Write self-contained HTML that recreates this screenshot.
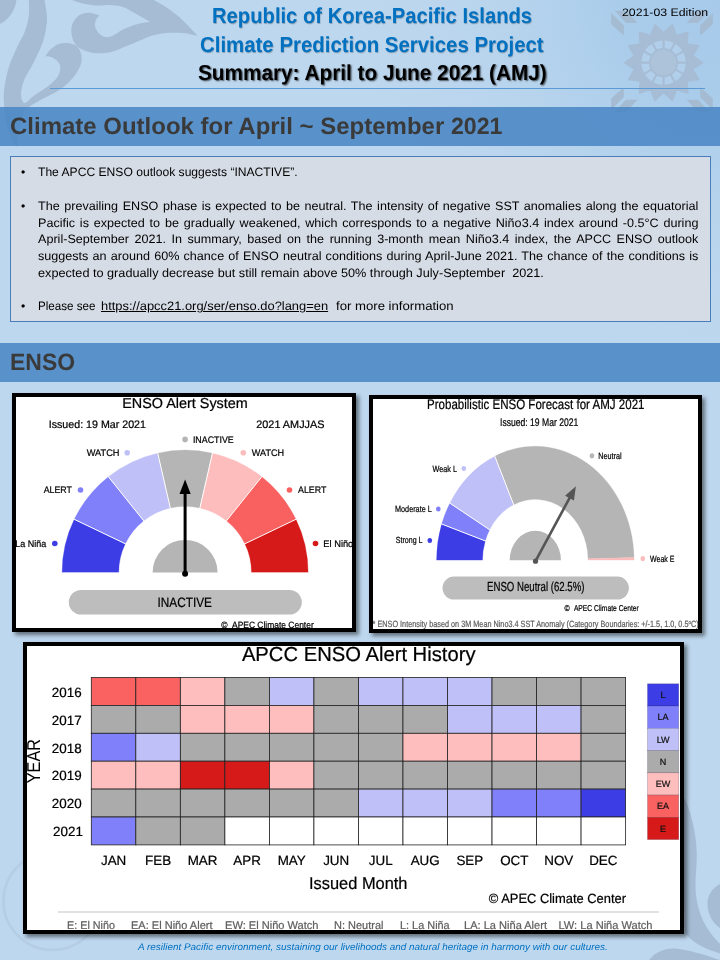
<!DOCTYPE html>
<html lang="en">
<head>
<meta charset="utf-8">
<title>ROK-PI CliPS Summary: April to June 2021 (AMJ)</title>
<style>
html,body{margin:0;padding:0;}
body{width:720px;height:960px;overflow:hidden;position:relative;font-family:"Liberation Sans",sans-serif;text-rendering:geometricPrecision;
  background:radial-gradient(circle at 100% 0%,#a7caea 0px,#a9cceb 90px,#b0d0ec 150px,#b8d4ed 215px,#bcd6ee 300px,#bdd7ee 360px);background-color:#bdd7ee;}
.abs{position:absolute;}
.t{position:absolute;white-space:pre;line-height:1;transform-origin:0 0;}
.band{position:absolute;left:0;width:720px;height:38.5px;background:rgba(72,133,196,0.86);}
.bandtxt{font-weight:bold;font-size:23.5px;color:#3a3a3a;}
.hd{font-weight:bold;font-size:21.65px;color:#0070c0;text-shadow:0.6px 0.6px 0.8px rgba(0,0,0,0.25);}
#box{position:absolute;left:10px;top:156px;width:699px;height:164px;background:#d6dce6;border:1px solid #4a7ebb;}
.p{position:absolute;left:37.9px;width:660.6px;font-size:12.2px;line-height:16.75px;color:#000;white-space:nowrap;text-align:justify;text-align-last:justify;height:16.75px;overflow:visible;}
.p.nj{text-align:left;text-align-last:left;white-space:pre;transform-origin:0 0;}
.p.j{width:639.3px;transform:scaleX(1.033);transform-origin:0 0;}
.bul{position:absolute;left:21px;font-size:12.2px;line-height:16.75px;}
.frame{position:absolute;background:#fff;border:4px solid #000;box-shadow:2.5px 2.5px 4px rgba(0,0,0,0.48);overflow:hidden;box-sizing:border-box;}
.frame svg{position:absolute;left:0;top:0;}
svg text{font-family:"Liberation Sans",sans-serif;text-rendering:geometricPrecision;}
</style>
</head>
<body>
<div id="sheet" style="position:absolute;left:0;top:0;width:720px;height:960px;will-change:transform">

<!-- decorative watermarks -->
<svg class="abs" id="deco" style="left:0;top:0" width="720" height="960" viewBox="0 0 720 960">
<!--DECO-->
<path d="M0,0 L16.4,0 C15.5,10 8.5,20 0,24 Z" fill="#a5bcd4"/>
<path d="M28.9,0.0 C34.1,0.0 39.3,0.0 44.5,0.0 C45.3,5.2 46.6,10.9 46.9,15.6 C47.2,20.3 46.9,23.4 46.1,28.1 C45.3,32.8 44.3,38.1 42.2,43.8 C40.1,49.5 36.5,56.8 33.6,62.5 C30.7,68.2 27.1,73.4 25.0,78.1 C22.9,82.8 21.9,87.2 21.3,90.6 C20.7,94.0 21.3,95.9 21.3,98.5 C22.5,100.0 22.8,103.6 25.0,103.1 C27.2,102.6 30.5,98.2 34.4,95.3 C38.3,92.4 44.5,89.0 48.4,85.9 C52.3,82.8 55.8,80.0 57.8,76.6 C59.8,73.2 61.0,68.7 60.2,65.6 C59.4,62.5 55.6,59.3 53.1,57.8 C50.6,56.2 47.9,56.8 45.3,56.3 C46.9,54.2 47.6,52.1 50.0,50.0 C52.4,47.9 55.8,44.8 59.4,43.8 C63.0,42.8 68.5,42.8 71.9,43.8 C75.3,44.8 78.1,46.9 79.7,50.0 C81.3,53.1 82.2,58.1 81.3,62.5 C80.3,66.9 77.5,72.0 74.0,76.5 C70.5,81.0 65.8,85.5 60.0,89.5 C54.2,93.5 45.5,97.1 39.5,100.5 C33.5,103.9 29.2,106.8 24.0,110.0 C22.8,115.0 21.6,118.8 20.3,125.0 C19.0,131.2 17.7,139.6 16.4,146.9 C15.1,144.8 14.2,144.8 12.5,140.6 C10.8,136.4 7.7,128.4 6.3,121.9 C4.9,115.4 4.2,107.6 3.9,101.6 C3.6,95.6 3.8,91.9 4.7,85.9 C5.6,79.9 7.3,72.1 9.4,65.6 C11.5,59.1 14.6,52.6 17.2,46.9 C19.8,41.2 23.1,36.4 25.0,31.2 C26.9,26.0 28.2,20.8 28.9,15.6 C29.5,10.4 28.9,5.2 28.9,0.0 Z" fill="#a5bcd4"/>
<path d="M72.0,0.0 C99.3,0.0 126.6,0.0 153.9,0.0 C158.9,3.0 164.6,5.9 168.9,8.9 C173.2,11.9 176.5,14.7 180.0,17.8 C183.5,20.9 187.0,24.8 190.0,27.8 C193.0,30.9 195.2,33.3 197.8,36.1 C193.7,35.2 189.4,33.8 185.5,33.3 C181.6,32.8 178.1,32.8 174.4,32.8 C170.7,32.8 167.0,32.8 163.3,33.3 C159.6,33.8 155.9,34.4 152.2,35.5 C148.5,36.6 145.2,38.3 141.1,40.0 C137.0,41.7 133.0,43.5 127.8,45.5 C122.6,47.5 115.6,51.0 110.0,52.2 C104.4,53.4 98.9,53.3 94.4,52.9 C90.0,52.5 86.5,51.4 83.3,50.0 C80.1,48.6 77.4,46.8 75.5,44.4 C73.6,42.0 72.3,38.8 71.8,35.5 C71.2,32.2 71.0,27.7 72.2,24.4 C73.4,21.1 76.2,17.4 78.9,15.5 C81.6,13.6 85.1,12.8 88.5,12.8 C91.9,12.8 95.7,14.5 99.3,15.3 C98.0,17.2 96.1,18.9 95.5,21.0 C94.9,23.1 94.8,25.6 95.5,27.8 C96.2,30.0 98.1,32.8 100.0,34.4 C101.9,36.0 104.5,37.0 106.7,37.2 C108.9,37.4 110.7,36.7 113.3,35.5 C115.9,34.3 119.1,31.6 122.2,30.0 C125.3,28.4 129.2,26.8 132.2,25.7 C135.2,24.6 137.0,24.2 140.0,23.5 C143.0,22.8 146.7,22.3 150.0,21.7 C147.0,20.0 144.4,18.6 141.1,16.7 C137.8,14.8 133.2,12.2 130.0,10.5 C126.8,8.8 125.3,7.6 122.0,6.7 C118.7,5.8 114.4,5.2 110.0,5.0 C105.6,4.8 100.2,5.8 95.5,5.5 C90.8,5.2 85.9,4.2 82.0,3.3 C78.1,2.4 75.3,1.1 72.0,0.0 Z" fill="#a5bcd4"/>
<path d="M685,799 C690,810 696,830 696.7,852 C697,870 694.5,880 696,895 C698,912 704,928 720,944 L720,953.5 C706,949 694,944 685,933 L680,800 Z" fill="#a5bcd4"/>
<path d="M720,884 C712,888 707,896 707.5,905 C708,915 713,923 720,928 Z" fill="#a5bcd4"/>
<path d="M649,960 C655,952 665,948 675,948.5 C690,950 705,955 720,960 Z" fill="#a5bcd4"/>
<circle cx="52.5" cy="901" r="49" fill="none" stroke="#aac2da" stroke-width="2.5" opacity="0.45"/>
<g opacity="0.9"><path d="M702.1,62.6 L692.4,56.0 L698.3,45.9 L686.7,44.2 L687.6,32.5 L676.4,36.0 L672.2,25.1 L663.6,33.1 L655.0,25.1 L650.8,36.0 L639.6,32.5 L640.5,44.2 L628.9,45.9 L634.8,56.0 L625.1,62.6 L634.8,69.2 L628.9,79.3 L640.5,81.0 L639.6,92.7 L650.8,89.2 L655.0,100.1 L663.6,92.1 L672.2,100.1 L676.4,89.2 L687.6,92.7 L686.7,81.0 L698.3,79.3 L692.4,69.2 Z" fill="#a6bcd3" stroke="#a6bcd3" stroke-width="2" stroke-linejoin="round"/>
<path d="M685.8,61.5 A22.2,22.2 0 0 0 683.3,52.5 L676.7,56.2 A14.6,14.6 0 0 1 678.2,61.5 Z" fill="#b2d0ec"/>
<path d="M682.3,50.6 A22.2,22.2 0 0 0 675.6,43.9 L671.8,50.5 A14.6,14.6 0 0 1 675.7,54.4 Z" fill="#b2d0ec"/>
<path d="M673.7,42.9 A22.2,22.2 0 0 0 664.7,40.4 L664.7,48.0 A14.6,14.6 0 0 1 670.0,49.5 Z" fill="#b2d0ec"/>
<path d="M662.5,40.4 A22.2,22.2 0 0 0 653.5,42.9 L657.2,49.5 A14.6,14.6 0 0 1 662.5,48.0 Z" fill="#b2d0ec"/>
<path d="M651.6,43.9 A22.2,22.2 0 0 0 644.9,50.6 L651.5,54.4 A14.6,14.6 0 0 1 655.4,50.5 Z" fill="#b2d0ec"/>
<path d="M643.9,52.5 A22.2,22.2 0 0 0 641.4,61.5 L649.0,61.5 A14.6,14.6 0 0 1 650.5,56.2 Z" fill="#b2d0ec"/>
<path d="M641.4,63.7 A22.2,22.2 0 0 0 643.9,72.7 L650.5,69.0 A14.6,14.6 0 0 1 649.0,63.7 Z" fill="#b2d0ec"/>
<path d="M644.9,74.6 A22.2,22.2 0 0 0 651.6,81.3 L655.4,74.7 A14.6,14.6 0 0 1 651.5,70.8 Z" fill="#b2d0ec"/>
<path d="M653.5,82.3 A22.2,22.2 0 0 0 662.5,84.8 L662.5,77.2 A14.6,14.6 0 0 1 657.2,75.7 Z" fill="#b2d0ec"/>
<path d="M664.7,84.8 A22.2,22.2 0 0 0 673.7,82.3 L670.0,75.7 A14.6,14.6 0 0 1 664.7,77.2 Z" fill="#b2d0ec"/>
<path d="M675.6,81.3 A22.2,22.2 0 0 0 682.3,74.6 L675.7,70.8 A14.6,14.6 0 0 1 671.8,74.7 Z" fill="#b2d0ec"/>
<path d="M683.3,72.7 A22.2,22.2 0 0 0 685.8,63.7 L678.2,63.7 A14.6,14.6 0 0 1 676.7,69.0 Z" fill="#b2d0ec"/>
<circle cx="663.6" cy="62.6" r="12.8" fill="#acc2d8"/>
</g>
<path d="M611.2,12.9 L623.8,25.4 L623.8,35.4 L611.2,24.2 Z" fill="#a3b9d0" opacity="0.95"/>
<path d="M615.0,10.8 L626.2,10.8 L637.5,22.9 L625.8,22.9 Z" fill="#a3b9d0" opacity="0.95"/>
<path d="M611.2,109.7 L623.8,97.2 L623.8,87.2 L611.2,98.4 Z" fill="#a3b9d0" opacity="0.95"/>
<path d="M615.0,111.8 L626.2,111.8 L637.5,99.7 L625.8,99.7 Z" fill="#a3b9d0" opacity="0.95"/>
<path d="M712.8,12.9 L700.2,25.4 L700.2,35.4 L712.8,24.2 Z" fill="#a3b9d0" opacity="0.95"/>
<path d="M709.0,10.8 L697.8,10.8 L686.5,22.9 L698.2,22.9 Z" fill="#a3b9d0" opacity="0.95"/>
<path d="M712.8,109.7 L700.2,97.2 L700.2,87.2 L712.8,98.4 Z" fill="#a3b9d0" opacity="0.95"/>
<path d="M709.0,111.8 L697.8,111.8 L686.5,99.7 L698.2,99.7 Z" fill="#a3b9d0" opacity="0.95"/>
<!--/DECO-->
</svg>

<!-- header -->
<div class="t hd" id="h1" style="left:212.1px;top:4.6px;transform:scaleX(0.934)">Republic of Korea-Pacific Islands</div>
<div class="t hd" id="h2" style="left:199.6px;top:33.5px;transform:scaleX(0.943)">Climate Prediction Services Project</div>
<div class="t hd" id="h3" style="left:198px;top:62.1px;color:#000;text-shadow:1.3px 1.3px 1.6px rgba(0,0,0,0.6);transform:scaleX(0.959)">Summary: April to June 2021 (AMJ)</div>
<div class="t" id="ed" style="left:622px;top:8.1px;font-size:10.9px;transform:scaleX(1.128)">2021-03 Edition</div>
<div class="abs" id="hr" style="left:50px;top:88px;width:655px;height:1px;background:#5b9bd5"></div>

<!-- section band 1 -->
<div class="band" style="top:107px"></div>
<div class="t bandtxt" id="b1" style="left:10px;top:115.4px;transform:scaleX(1.0206)">Climate Outlook for April ~ September</div>
<div class="t bandtxt" id="b1y" style="left:451.4px;top:115.4px;transform:scaleX(0.985)">2021</div>

<!-- text box -->
<div id="box"></div>
<div class="bul" style="top:163.7px">•</div>
<div class="p nj" style="top:163.7px;transform:scaleX(0.993)">The APCC ENSO outlook suggests “INACTIVE”.</div>
<div class="bul" style="top:197.7px">•</div>
<div class="p j" style="top:197.7px">The prevailing ENSO phase is expected to be neutral. The intensity of negative SST anomalies along the equatorial</div>
<div class="p j" style="top:214.5px">Pacific is expected to be gradually weakened, which corresponds to a negative Niño3.4 index around -0.5°C during</div>
<div class="p j" style="top:231.2px">April-September 2021. In summary, based on the running 3-month mean Niño3.4 index, the APCC ENSO outlook</div>
<div class="p j" style="top:248px">suggests an around 60% chance of ENSO neutral conditions during April-June 2021. The chance of the conditions is</div>
<div class="p nj" style="top:264.7px;transform:scaleX(1.040)">expected to gradually decrease but still remain above 50% through July-September  2021.</div>
<div class="bul" style="top:298.3px">•</div>
<div class="p nj" style="top:298.3px;transform:scaleX(0.954)">Please see</div>
<div class="p nj" style="top:298.3px;left:100.5px;transform:scaleX(1.059);text-decoration:underline">https://apcc21.org/ser/enso.do?lang=en</div>
<div class="p nj" style="top:298.3px;left:335.7px;transform:scaleX(1.079)">for more information</div>

<!-- section band 2 -->
<div class="band" style="top:343px"></div>
<div class="t bandtxt" id="b2" style="left:10.4px;top:351.2px;transform:scaleX(0.977)">ENSO</div>

<!-- image 1: ENSO Alert System -->
<div class="frame" id="f1" style="left:12px;top:393px;width:344px;height:239px">
<!--C1-->
<svg width="336" height="231" viewBox="16 397 336 231">
<path d="M62.10,572.40 A123.00,122.30 0 0 1 74.28,519.34 L125.30,543.76 A66.38,66.00 0 0 0 118.72,572.40 Z" fill="#3d3de5" stroke="#3d3de5" stroke-width="0.3"/>
<path d="M74.28,519.34 A123.00,122.30 0 0 1 108.41,476.78 L143.71,520.80 A66.38,66.00 0 0 0 125.30,543.76 Z" fill="#8080fa" stroke="#8080fa" stroke-width="0.3"/>
<path d="M108.41,476.78 A123.00,122.30 0 0 1 157.73,453.17 L170.33,508.05 A66.38,66.00 0 0 0 143.71,520.80 Z" fill="#c0c0f9" stroke="#c0c0f9" stroke-width="0.3"/>
<path d="M157.73,453.17 A123.00,122.30 0 0 1 212.47,453.17 L199.87,508.05 A66.38,66.00 0 0 0 170.33,508.05 Z" fill="#b5b5b5" stroke="#b5b5b5" stroke-width="0.3"/>
<path d="M212.47,453.17 A123.00,122.30 0 0 1 261.79,476.78 L226.49,520.80 A66.38,66.00 0 0 0 199.87,508.05 Z" fill="#fdbdbd" stroke="#fdbdbd" stroke-width="0.3"/>
<path d="M261.79,476.78 A123.00,122.30 0 0 1 295.92,519.34 L244.90,543.76 A66.38,66.00 0 0 0 226.49,520.80 Z" fill="#f96161" stroke="#f96161" stroke-width="0.3"/>
<path d="M295.92,519.34 A123.00,122.30 0 0 1 308.10,572.40 L251.48,572.40 A66.38,66.00 0 0 0 244.90,543.76 Z" fill="#d61919" stroke="#d61919" stroke-width="0.3"/>
<line x1="126.20" y1="544.20" x2="73.37" y2="518.90" stroke="#fff" stroke-width="1"/>
<line x1="144.34" y1="521.58" x2="107.78" y2="476.00" stroke="#fff" stroke-width="1"/>
<line x1="170.55" y1="509.03" x2="157.51" y2="452.19" stroke="#fff" stroke-width="1"/>
<line x1="199.65" y1="509.03" x2="212.69" y2="452.19" stroke="#fff" stroke-width="1"/>
<line x1="225.86" y1="521.58" x2="262.42" y2="476.00" stroke="#fff" stroke-width="1"/>
<line x1="244.00" y1="544.20" x2="296.83" y2="518.90" stroke="#fff" stroke-width="1"/>
<rect x="55" y="572.55" width="260" height="3" fill="#fff"/>
<path d="M152.60,572.40 A32.5,32.5 0 0 1 217.60,572.40 Z" fill="#b5b5b5"/>
<line x1="185.1" y1="573.6999999999999" x2="185.1" y2="492" stroke="#000" stroke-width="3"/>
<path d="M185.1,479.6 L190.7,494 L179.5,494 Z" fill="#000"/>
<circle cx="185.1" cy="573.6999999999999" r="3" fill="#000"/>
<rect x="68.8" y="590" width="233" height="24.6" rx="12.3" fill="#bdbdbd"/>
<text x="122.2" y="407.9" font-size="14.35" fill="#000" stroke="#000" stroke-width="0.22" text-anchor="start" textLength="125.6" lengthAdjust="spacingAndGlyphs">ENSO Alert System</text>
<text x="48.7" y="428.0" font-size="10.92" fill="#000" stroke="#000" stroke-width="0.22" text-anchor="start" textLength="97.3" lengthAdjust="spacingAndGlyphs">Issued: 19 Mar 2021</text>
<text x="256.3" y="428.0" font-size="10.92" fill="#000" stroke="#000" stroke-width="0.22" text-anchor="start" textLength="68.2" lengthAdjust="spacingAndGlyphs">2021 AMJJAS</text>
<text x="192.9" y="442.8" font-size="9.57" fill="#000" stroke="#000" stroke-width="0.22" text-anchor="start" textLength="40.9" lengthAdjust="spacingAndGlyphs">INACTIVE</text>
<text x="86.7" y="455.8" font-size="9.57" fill="#000" stroke="#000" stroke-width="0.22" text-anchor="start" textLength="32.8" lengthAdjust="spacingAndGlyphs">WATCH</text>
<text x="251.8" y="455.8" font-size="9.57" fill="#000" stroke="#000" stroke-width="0.22" text-anchor="start" textLength="32.3" lengthAdjust="spacingAndGlyphs">WATCH</text>
<text x="43.7" y="493.3" font-size="9.57" fill="#000" stroke="#000" stroke-width="0.22" text-anchor="start" textLength="28.3" lengthAdjust="spacingAndGlyphs">ALERT</text>
<text x="298" y="493.3" font-size="9.57" fill="#000" stroke="#000" stroke-width="0.22" text-anchor="start" textLength="28.3" lengthAdjust="spacingAndGlyphs">ALERT</text>
<text x="15.3" y="547" font-size="9.57" fill="#000" stroke="#000" stroke-width="0.22" text-anchor="start" textLength="31" lengthAdjust="spacingAndGlyphs">La Niña</text>
<text x="323.3" y="547" font-size="9.57" fill="#000" stroke="#000" stroke-width="0.22" text-anchor="start" textLength="30" lengthAdjust="spacingAndGlyphs">El Niño</text>
<text x="157.5" y="606.8" font-size="13.52" fill="#000" stroke="#000" stroke-width="0.22" text-anchor="start" textLength="54.5" lengthAdjust="spacingAndGlyphs">INACTIVE</text>
<text x="221.3" y="627.8" font-size="9.15" fill="#000" stroke="#000" stroke-width="0.22" text-anchor="start" textLength="6.3" lengthAdjust="spacingAndGlyphs">©</text>
<text x="232" y="627.8" font-size="9.15" fill="#000" stroke="#000" stroke-width="0.22" text-anchor="start" textLength="81.7" lengthAdjust="spacingAndGlyphs">APEC Climate Center</text>
<circle cx="185.1" cy="439.4" r="2.8" fill="#b5b5b5"/>
<circle cx="127.2" cy="452.7" r="2.8" fill="#c0c0f9"/>
<circle cx="243.3" cy="452.7" r="2.8" fill="#fdbdbd"/>
<circle cx="80.5" cy="490" r="2.8" fill="#8080fa"/>
<circle cx="289.5" cy="490" r="2.8" fill="#f96161"/>
<circle cx="54.8" cy="543.5" r="2.8" fill="#3d3de5"/>
<circle cx="315.5" cy="543.5" r="2.8" fill="#d61919"/>
</svg>
<!--/C1-->
</div>

<!-- image 2: Probabilistic ENSO Forecast -->
<div class="frame" id="f2" style="left:369px;top:395px;width:333px;height:238px">
<!--C2-->
<svg width="325" height="230" viewBox="373 399 325 230">
<path d="M436.58,560.30 A98.72,114.00 0 0 1 441.71,524.03 L485.22,540.89 A52.83,61.00 0 0 0 482.47,560.30 Z" fill="#3d3de5" stroke="#3d3de5" stroke-width="0.3"/>
<path d="M441.71,524.03 A98.72,114.00 0 0 1 449.89,503.13 L489.60,529.71 A52.83,61.00 0 0 0 485.22,540.89 Z" fill="#8080fa" stroke="#8080fa" stroke-width="0.3"/>
<path d="M449.89,503.13 A98.72,114.00 0 0 1 494.83,456.32 L513.65,504.66 A52.83,61.00 0 0 0 489.60,529.71 Z" fill="#c0c0f9" stroke="#c0c0f9" stroke-width="0.3"/>
<path d="M494.83,456.32 A98.72,114.00 0 0 1 633.99,557.51 L588.11,558.81 A52.83,61.00 0 0 0 513.65,504.66 Z" fill="#b5b5b5" stroke="#b5b5b5" stroke-width="0.3"/>
<path d="M633.99,557.51 A98.72,114.00 0 0 1 634.02,560.30 L588.13,560.30 A52.83,61.00 0 0 0 588.11,558.81 Z" fill="#fdbdbd" stroke="#fdbdbd" stroke-width="0.3"/>
<line x1="486.04" y1="541.21" x2="440.88" y2="523.71" stroke="#fff" stroke-width="1"/>
<line x1="490.35" y1="530.21" x2="449.14" y2="502.63" stroke="#fff" stroke-width="1"/>
<line x1="514.00" y1="505.57" x2="494.48" y2="455.41" stroke="#fff" stroke-width="1"/>
<rect x="430" y="560.45" width="210" height="3" fill="#fff"/>
<path d="M509.67,560.30 A25.63,29.6 0 0 1 560.93,560.30 Z" fill="#b5b5b5"/>
<line x1="535.5" y1="561.2" x2="570.45" y2="496.32" stroke="#555" stroke-width="2.6"/>
<path d="M575.90,486.20 L573.90,500.46 L565.10,495.71 Z" fill="#555"/>
<circle cx="535.5" cy="561.2" r="2.6" fill="#555"/>
<rect x="442.5" y="576.6" width="186.4" height="22.9" rx="11.45" fill="#bdbdbd"/>
<text x="427" y="409.3" font-size="13.83" fill="#000" stroke="#000" stroke-width="0.22" text-anchor="start" textLength="217.5" lengthAdjust="spacingAndGlyphs">Probabilistic ENSO Forecast for AMJ 2021</text>
<text x="500" y="425.9" font-size="11.02" fill="#000" stroke="#000" stroke-width="0.22" text-anchor="start" textLength="78.3" lengthAdjust="spacingAndGlyphs">Issued: 19 Mar 2021</text>
<text x="598.3" y="458.8" font-size="8.94" fill="#000" stroke="#000" stroke-width="0.22" text-anchor="start" textLength="23.2" lengthAdjust="spacingAndGlyphs">Neutral</text>
<text x="432.5" y="471.8" font-size="8.94" fill="#000" stroke="#000" stroke-width="0.22" text-anchor="start" textLength="24.5" lengthAdjust="spacingAndGlyphs">Weak L</text>
<text x="395" y="512" font-size="8.94" fill="#000" stroke="#000" stroke-width="0.22" text-anchor="start" textLength="36.8" lengthAdjust="spacingAndGlyphs">Moderate L</text>
<text x="395.8" y="543" font-size="8.94" fill="#000" stroke="#000" stroke-width="0.22" text-anchor="start" textLength="26.7" lengthAdjust="spacingAndGlyphs">Strong L</text>
<text x="650" y="561.5" font-size="8.94" fill="#000" stroke="#000" stroke-width="0.22" text-anchor="start" textLength="24.5" lengthAdjust="spacingAndGlyphs">Weak E</text>
<text x="487" y="591.1" font-size="13.1" fill="#000" stroke="#000" stroke-width="0.22" text-anchor="start" textLength="97.5" lengthAdjust="spacingAndGlyphs">ENSO Neutral (62.5%)</text>
<text x="564.5" y="611.4" font-size="8.53" fill="#000" stroke="#000" stroke-width="0.22" text-anchor="start" textLength="5.2" lengthAdjust="spacingAndGlyphs">©</text>
<text x="573.9" y="611.4" font-size="8.53" fill="#000" stroke="#000" stroke-width="0.22" text-anchor="start" textLength="64.9" lengthAdjust="spacingAndGlyphs">APEC Climate Center</text>
<text x="372.6" y="627.4" font-size="9.05" fill="#606060" stroke="#606060" stroke-width="0.22" text-anchor="start" textLength="326" lengthAdjust="spacingAndGlyphs">* ENSO Intensity based on 3M Mean Nino3.4 SST Anomaly (Category Boundaries: +/-1.5, 1.0, 0.5<tspan font-size="5.5" dy="-3">o</tspan><tspan dy="3">C)</tspan></text>
<ellipse cx="592" cy="455.8" rx="2.3" ry="2.6" fill="#b5b5b5"/>
<ellipse cx="463.8" cy="468.5" rx="2.3" ry="2.6" fill="#c0c0f9"/>
<ellipse cx="438.3" cy="509" rx="2.3" ry="2.6" fill="#8080fa"/>
<ellipse cx="429.8" cy="540.5" rx="2.3" ry="2.6" fill="#3d3de5"/>
<ellipse cx="642.8" cy="558.7" rx="2.3" ry="2.6" fill="#fdbdbd"/>
</svg>
<!--/C2-->
</div>

<!-- image 3: Alert History -->
<div class="frame" id="f3" style="left:23px;top:642px;width:661px;height:292px">
<!--C3-->
<svg width="653" height="284" viewBox="27 646 653 284">
<rect x="91.30" y="677.50" width="44.53" height="27.90" fill="#fa6262" stroke="#222" stroke-width="0.8"/>
<rect x="135.82" y="677.50" width="44.53" height="27.90" fill="#fa6262" stroke="#222" stroke-width="0.8"/>
<rect x="180.35" y="677.50" width="44.53" height="27.90" fill="#ffbebe" stroke="#222" stroke-width="0.8"/>
<rect x="224.88" y="677.50" width="44.53" height="27.90" fill="#ababab" stroke="#222" stroke-width="0.8"/>
<rect x="269.40" y="677.50" width="44.53" height="27.90" fill="#c0c0f9" stroke="#222" stroke-width="0.8"/>
<rect x="313.93" y="677.50" width="44.53" height="27.90" fill="#ababab" stroke="#222" stroke-width="0.8"/>
<rect x="358.45" y="677.50" width="44.53" height="27.90" fill="#c0c0f9" stroke="#222" stroke-width="0.8"/>
<rect x="402.98" y="677.50" width="44.53" height="27.90" fill="#c0c0f9" stroke="#222" stroke-width="0.8"/>
<rect x="447.50" y="677.50" width="44.53" height="27.90" fill="#c0c0f9" stroke="#222" stroke-width="0.8"/>
<rect x="492.03" y="677.50" width="44.53" height="27.90" fill="#ababab" stroke="#222" stroke-width="0.8"/>
<rect x="536.55" y="677.50" width="44.53" height="27.90" fill="#ababab" stroke="#222" stroke-width="0.8"/>
<rect x="581.08" y="677.50" width="44.53" height="27.90" fill="#ababab" stroke="#222" stroke-width="0.8"/>
<text x="81.6" y="696.7" font-size="13.4" fill="#000" stroke="#000" stroke-width="0.22" text-anchor="end">2016</text>
<rect x="91.30" y="705.40" width="44.53" height="27.90" fill="#ababab" stroke="#222" stroke-width="0.8"/>
<rect x="135.82" y="705.40" width="44.53" height="27.90" fill="#ababab" stroke="#222" stroke-width="0.8"/>
<rect x="180.35" y="705.40" width="44.53" height="27.90" fill="#ffbebe" stroke="#222" stroke-width="0.8"/>
<rect x="224.88" y="705.40" width="44.53" height="27.90" fill="#ffbebe" stroke="#222" stroke-width="0.8"/>
<rect x="269.40" y="705.40" width="44.53" height="27.90" fill="#ffbebe" stroke="#222" stroke-width="0.8"/>
<rect x="313.93" y="705.40" width="44.53" height="27.90" fill="#ababab" stroke="#222" stroke-width="0.8"/>
<rect x="358.45" y="705.40" width="44.53" height="27.90" fill="#ababab" stroke="#222" stroke-width="0.8"/>
<rect x="402.98" y="705.40" width="44.53" height="27.90" fill="#ababab" stroke="#222" stroke-width="0.8"/>
<rect x="447.50" y="705.40" width="44.53" height="27.90" fill="#c0c0f9" stroke="#222" stroke-width="0.8"/>
<rect x="492.03" y="705.40" width="44.53" height="27.90" fill="#c0c0f9" stroke="#222" stroke-width="0.8"/>
<rect x="536.55" y="705.40" width="44.53" height="27.90" fill="#c0c0f9" stroke="#222" stroke-width="0.8"/>
<rect x="581.08" y="705.40" width="44.53" height="27.90" fill="#ababab" stroke="#222" stroke-width="0.8"/>
<text x="81.6" y="724.6" font-size="13.4" fill="#000" stroke="#000" stroke-width="0.22" text-anchor="end">2017</text>
<rect x="91.30" y="733.30" width="44.53" height="27.90" fill="#8080fa" stroke="#222" stroke-width="0.8"/>
<rect x="135.82" y="733.30" width="44.53" height="27.90" fill="#c0c0f9" stroke="#222" stroke-width="0.8"/>
<rect x="180.35" y="733.30" width="44.53" height="27.90" fill="#ababab" stroke="#222" stroke-width="0.8"/>
<rect x="224.88" y="733.30" width="44.53" height="27.90" fill="#ababab" stroke="#222" stroke-width="0.8"/>
<rect x="269.40" y="733.30" width="44.53" height="27.90" fill="#ababab" stroke="#222" stroke-width="0.8"/>
<rect x="313.93" y="733.30" width="44.53" height="27.90" fill="#ababab" stroke="#222" stroke-width="0.8"/>
<rect x="358.45" y="733.30" width="44.53" height="27.90" fill="#ababab" stroke="#222" stroke-width="0.8"/>
<rect x="402.98" y="733.30" width="44.53" height="27.90" fill="#ffbebe" stroke="#222" stroke-width="0.8"/>
<rect x="447.50" y="733.30" width="44.53" height="27.90" fill="#ffbebe" stroke="#222" stroke-width="0.8"/>
<rect x="492.03" y="733.30" width="44.53" height="27.90" fill="#ffbebe" stroke="#222" stroke-width="0.8"/>
<rect x="536.55" y="733.30" width="44.53" height="27.90" fill="#ffbebe" stroke="#222" stroke-width="0.8"/>
<rect x="581.08" y="733.30" width="44.53" height="27.90" fill="#ababab" stroke="#222" stroke-width="0.8"/>
<text x="81.6" y="752.5" font-size="13.4" fill="#000" stroke="#000" stroke-width="0.22" text-anchor="end">2018</text>
<rect x="91.30" y="761.20" width="44.53" height="27.90" fill="#ffbebe" stroke="#222" stroke-width="0.8"/>
<rect x="135.82" y="761.20" width="44.53" height="27.90" fill="#ffbebe" stroke="#222" stroke-width="0.8"/>
<rect x="180.35" y="761.20" width="44.53" height="27.90" fill="#d61919" stroke="#222" stroke-width="0.8"/>
<rect x="224.88" y="761.20" width="44.53" height="27.90" fill="#d61919" stroke="#222" stroke-width="0.8"/>
<rect x="269.40" y="761.20" width="44.53" height="27.90" fill="#ffbebe" stroke="#222" stroke-width="0.8"/>
<rect x="313.93" y="761.20" width="44.53" height="27.90" fill="#ababab" stroke="#222" stroke-width="0.8"/>
<rect x="358.45" y="761.20" width="44.53" height="27.90" fill="#ababab" stroke="#222" stroke-width="0.8"/>
<rect x="402.98" y="761.20" width="44.53" height="27.90" fill="#ababab" stroke="#222" stroke-width="0.8"/>
<rect x="447.50" y="761.20" width="44.53" height="27.90" fill="#ababab" stroke="#222" stroke-width="0.8"/>
<rect x="492.03" y="761.20" width="44.53" height="27.90" fill="#ababab" stroke="#222" stroke-width="0.8"/>
<rect x="536.55" y="761.20" width="44.53" height="27.90" fill="#ababab" stroke="#222" stroke-width="0.8"/>
<rect x="581.08" y="761.20" width="44.53" height="27.90" fill="#ababab" stroke="#222" stroke-width="0.8"/>
<text x="81.6" y="780.4" font-size="13.4" fill="#000" stroke="#000" stroke-width="0.22" text-anchor="end">2019</text>
<rect x="91.30" y="789.10" width="44.53" height="27.90" fill="#ababab" stroke="#222" stroke-width="0.8"/>
<rect x="135.82" y="789.10" width="44.53" height="27.90" fill="#ababab" stroke="#222" stroke-width="0.8"/>
<rect x="180.35" y="789.10" width="44.53" height="27.90" fill="#ababab" stroke="#222" stroke-width="0.8"/>
<rect x="224.88" y="789.10" width="44.53" height="27.90" fill="#ababab" stroke="#222" stroke-width="0.8"/>
<rect x="269.40" y="789.10" width="44.53" height="27.90" fill="#ababab" stroke="#222" stroke-width="0.8"/>
<rect x="313.93" y="789.10" width="44.53" height="27.90" fill="#ababab" stroke="#222" stroke-width="0.8"/>
<rect x="358.45" y="789.10" width="44.53" height="27.90" fill="#c0c0f9" stroke="#222" stroke-width="0.8"/>
<rect x="402.98" y="789.10" width="44.53" height="27.90" fill="#c0c0f9" stroke="#222" stroke-width="0.8"/>
<rect x="447.50" y="789.10" width="44.53" height="27.90" fill="#c0c0f9" stroke="#222" stroke-width="0.8"/>
<rect x="492.03" y="789.10" width="44.53" height="27.90" fill="#8080fa" stroke="#222" stroke-width="0.8"/>
<rect x="536.55" y="789.10" width="44.53" height="27.90" fill="#8080fa" stroke="#222" stroke-width="0.8"/>
<rect x="581.08" y="789.10" width="44.53" height="27.90" fill="#3d3de5" stroke="#222" stroke-width="0.8"/>
<text x="81.6" y="808.3" font-size="13.4" fill="#000" stroke="#000" stroke-width="0.22" text-anchor="end">2020</text>
<rect x="91.30" y="817.00" width="44.53" height="27.90" fill="#8080fa" stroke="#222" stroke-width="0.8"/>
<rect x="135.82" y="817.00" width="44.53" height="27.90" fill="#ababab" stroke="#222" stroke-width="0.8"/>
<rect x="180.35" y="817.00" width="44.53" height="27.90" fill="#ababab" stroke="#222" stroke-width="0.8"/>
<rect x="224.88" y="817.00" width="44.53" height="27.90" fill="#ffffff" stroke="#222" stroke-width="0.8"/>
<rect x="269.40" y="817.00" width="44.53" height="27.90" fill="#ffffff" stroke="#222" stroke-width="0.8"/>
<rect x="313.93" y="817.00" width="44.53" height="27.90" fill="#ffffff" stroke="#222" stroke-width="0.8"/>
<rect x="358.45" y="817.00" width="44.53" height="27.90" fill="#ffffff" stroke="#222" stroke-width="0.8"/>
<rect x="402.98" y="817.00" width="44.53" height="27.90" fill="#ffffff" stroke="#222" stroke-width="0.8"/>
<rect x="447.50" y="817.00" width="44.53" height="27.90" fill="#ffffff" stroke="#222" stroke-width="0.8"/>
<rect x="492.03" y="817.00" width="44.53" height="27.90" fill="#ffffff" stroke="#222" stroke-width="0.8"/>
<rect x="536.55" y="817.00" width="44.53" height="27.90" fill="#ffffff" stroke="#222" stroke-width="0.8"/>
<rect x="581.08" y="817.00" width="44.53" height="27.90" fill="#ffffff" stroke="#222" stroke-width="0.8"/>
<text x="82.89999999999999" y="836.2" font-size="13.4" fill="#000" stroke="#000" stroke-width="0.22" text-anchor="end">2021</text>
<text x="113.6" y="865" font-size="13.4" fill="#000" stroke="#000" stroke-width="0.22" text-anchor="middle">JAN</text>
<text x="158.1" y="865" font-size="13.4" fill="#000" stroke="#000" stroke-width="0.22" text-anchor="middle">FEB</text>
<text x="202.6" y="865" font-size="13.4" fill="#000" stroke="#000" stroke-width="0.22" text-anchor="middle">MAR</text>
<text x="247.1" y="865" font-size="13.4" fill="#000" stroke="#000" stroke-width="0.22" text-anchor="middle">APR</text>
<text x="291.7" y="865" font-size="13.4" fill="#000" stroke="#000" stroke-width="0.22" text-anchor="middle">MAY</text>
<text x="336.2" y="865" font-size="13.4" fill="#000" stroke="#000" stroke-width="0.22" text-anchor="middle">JUN</text>
<text x="380.7" y="865" font-size="13.4" fill="#000" stroke="#000" stroke-width="0.22" text-anchor="middle">JUL</text>
<text x="425.2" y="865" font-size="13.4" fill="#000" stroke="#000" stroke-width="0.22" text-anchor="middle">AUG</text>
<text x="469.8" y="865" font-size="13.4" fill="#000" stroke="#000" stroke-width="0.22" text-anchor="middle">SEP</text>
<text x="514.3" y="865" font-size="13.4" fill="#000" stroke="#000" stroke-width="0.22" text-anchor="middle">OCT</text>
<text x="558.8" y="865" font-size="13.4" fill="#000" stroke="#000" stroke-width="0.22" text-anchor="middle">NOV</text>
<text x="603.3" y="865" font-size="13.4" fill="#000" stroke="#000" stroke-width="0.22" text-anchor="middle">DEC</text>
<text x="241.9" y="660.6" font-size="20.28" fill="#000" stroke="#000" stroke-width="0.22" text-anchor="start" textLength="233.6" lengthAdjust="spacingAndGlyphs">APCC ENSO Alert History</text>
<text transform="translate(40.1,783.2) rotate(-90)" font-size="18.6" textLength="44.2" lengthAdjust="spacingAndGlyphs" fill="#000">YEAR</text>
<text x="309" y="888.8" font-size="16.95" fill="#000" stroke="#000" stroke-width="0.22" text-anchor="start" textLength="98.5" lengthAdjust="spacingAndGlyphs">Issued Month</text>
<text x="488.8" y="902.5" font-size="13.31" fill="#000" stroke="#000" stroke-width="0.22" text-anchor="start" textLength="137.2" lengthAdjust="spacingAndGlyphs">© APEC Climate Center</text>
<rect x="58" y="911.4" width="601" height="1.2" fill="#d0d0d0"/>
<text x="67" y="928.9" font-size="11.23" fill="#5e5e5e" stroke="#5e5e5e" stroke-width="0.22" text-anchor="start" textLength="48" lengthAdjust="spacingAndGlyphs">E: El Niño</text>
<text x="131" y="928.9" font-size="11.23" fill="#5e5e5e" stroke="#5e5e5e" stroke-width="0.22" text-anchor="start" textLength="81.5" lengthAdjust="spacingAndGlyphs">EA: El Niño Alert</text>
<text x="225" y="928.9" font-size="11.23" fill="#5e5e5e" stroke="#5e5e5e" stroke-width="0.22" text-anchor="start" textLength="93.5" lengthAdjust="spacingAndGlyphs">EW: El Niño Watch</text>
<text x="334" y="928.9" font-size="11.23" fill="#5e5e5e" stroke="#5e5e5e" stroke-width="0.22" text-anchor="start" textLength="49.5" lengthAdjust="spacingAndGlyphs">N: Neutral</text>
<text x="400" y="928.9" font-size="11.23" fill="#5e5e5e" stroke="#5e5e5e" stroke-width="0.22" text-anchor="start" textLength="49.7" lengthAdjust="spacingAndGlyphs">L: La Niña</text>
<text x="464" y="928.9" font-size="11.23" fill="#5e5e5e" stroke="#5e5e5e" stroke-width="0.22" text-anchor="start" textLength="83" lengthAdjust="spacingAndGlyphs">LA: La Niña Alert</text>
<text x="558.5" y="928.9" font-size="11.23" fill="#5e5e5e" stroke="#5e5e5e" stroke-width="0.22" text-anchor="start" textLength="94.0" lengthAdjust="spacingAndGlyphs">LW: La Niña Watch</text>
<rect x="647.5" y="683.80" width="31.2" height="22.25" fill="#3d3de5" stroke="rgba(0,0,40,0.28)" stroke-width="0.6"/>
<text x="663.1" y="698.1" font-size="9" fill="#111" stroke="#111" stroke-width="0.22" text-anchor="middle">L</text>
<rect x="647.5" y="706.05" width="31.2" height="22.25" fill="#8080fa" stroke="rgba(0,0,40,0.28)" stroke-width="0.6"/>
<text x="663.1" y="720.4" font-size="9" fill="#111" stroke="#111" stroke-width="0.22" text-anchor="middle">LA</text>
<rect x="647.5" y="728.30" width="31.2" height="22.25" fill="#c0c0f9" stroke="rgba(0,0,40,0.28)" stroke-width="0.6"/>
<text x="663.1" y="742.6" font-size="9" fill="#111" stroke="#111" stroke-width="0.22" text-anchor="middle">LW</text>
<rect x="647.5" y="750.55" width="31.2" height="22.25" fill="#ababab" stroke="rgba(0,0,40,0.28)" stroke-width="0.6"/>
<text x="663.1" y="764.9" font-size="9" fill="#111" stroke="#111" stroke-width="0.22" text-anchor="middle">N</text>
<rect x="647.5" y="772.80" width="31.2" height="22.25" fill="#ffbebe" stroke="rgba(0,0,40,0.28)" stroke-width="0.6"/>
<text x="663.1" y="787.1" font-size="9" fill="#111" stroke="#111" stroke-width="0.22" text-anchor="middle">EW</text>
<rect x="647.5" y="795.05" width="31.2" height="22.25" fill="#fa6262" stroke="rgba(0,0,40,0.28)" stroke-width="0.6"/>
<text x="663.1" y="809.4" font-size="9" fill="#111" stroke="#111" stroke-width="0.22" text-anchor="middle">EA</text>
<rect x="647.5" y="817.30" width="31.2" height="22.25" fill="#d61919" stroke="rgba(0,0,40,0.28)" stroke-width="0.6"/>
<text x="663.1" y="831.6" font-size="9" fill="#111" stroke="#111" stroke-width="0.22" text-anchor="middle">E</text>
</svg>
<!--/C3-->
</div>

<!-- footer -->
<div class="t" id="ft" style="left:138.3px;top:942.5px;font-size:9.6px;font-style:italic;color:#0070c0;transform:scaleX(1.0346)">A resilient Pacific environment, sustaining our livelihoods and natural heritage in harmony with our cultures.</div>

</div>
</body>
</html>
